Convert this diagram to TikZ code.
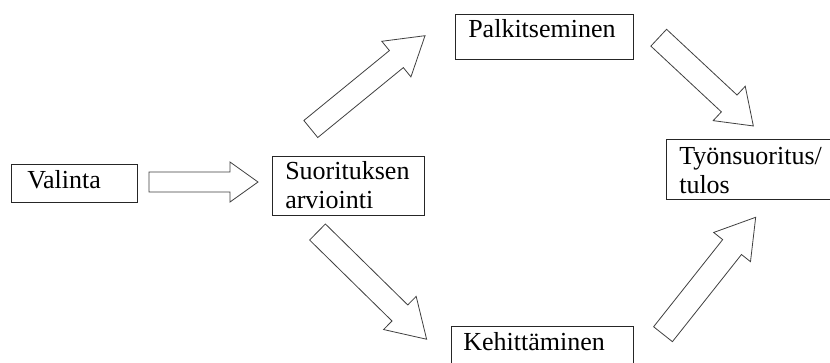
\documentclass[tikz,border=0pt]{standalone}
\usepackage{fontspec}
\setmainfont{Liberation Serif}
\newcommand\pxu{0.75pt}
\tikzset{
  box/.style={draw=black!85, line width=0.75pt, rectangle, inner sep=0pt, anchor=north west},
  txt/.style={inner sep=0pt, align=left, anchor=north west,
    font=\fontsize{19.5pt}{21.5pt}\selectfont},
  arrowline/.style={draw=black!75, line width=0.6pt, fill=white, line join=miter},
}
% tail x, tail y, angle, length, shaft width, head width, head length
\newcommand\blockarrow[7]{%
  \begin{scope}[shift={(#1,#2)},rotate=#3]
    \draw[arrowline] (0,-#5/2) -- ({#4-#7},-#5/2) -- ({#4-#7},-#6/2) -- (#4,0)
      -- ({#4-#7},#6/2) -- ({#4-#7},#5/2) -- (0,#5/2) -- cycle;
  \end{scope}}
\begin{document}
\begin{tikzpicture}[x=0.75pt,y=-0.75pt]
\useasboundingbox (0,0) rectangle (830,362);
\fill[white] (0,0) rectangle (830,362);
\clip (0,0) rectangle (830,362);

\node[box, minimum width=126*\pxu, minimum height=38*\pxu,
  label={[txt, xshift=16*\pxu, yshift=-6.2*\pxu]north west:Valinta}] (valinta) at (11,164) {};
\node[box, minimum width=152*\pxu, minimum height=59*\pxu,
  label={[txt, xshift=13*\pxu, yshift=-5.2*\pxu]north west:Suorituksen\\arviointi}] (suor) at (272,156) {};
\node[box, minimum width=178*\pxu, minimum height=45*\pxu,
  label={[txt, xshift=13*\pxu, yshift=-5.2*\pxu]north west:Palkitseminen}] (palk) at (455,14) {};
\node[box, minimum width=182*\pxu, minimum height=50*\pxu,
  label={[txt, xshift=12*\pxu, yshift=-6.2*\pxu]north west:Kehittäminen}] (kehit) at (451,326) {};
\node[box, minimum width=195*\pxu, minimum height=60*\pxu,
  label={[txt, xshift=13*\pxu, yshift=-8.2*\pxu]north west:Työnsuoritus/\\tulos}] (tyon) at (666,139) {};

% block arrows
\blockarrow{149}{182}{0}{109}{20}{40}{28}
\blockarrow{310.8}{129}{39.25}{147.5}{22}{46}{37}
\blockarrow{317.5}{232}{-44.5}{153}{22.5}{46.5}{37.5}
\blockarrow{658.7}{37.7}{-43}{129.4}{23}{47}{33}
\blockarrow{663}{334.2}{51.6}{149.2}{24}{47}{38}
\end{tikzpicture}
\end{document}
